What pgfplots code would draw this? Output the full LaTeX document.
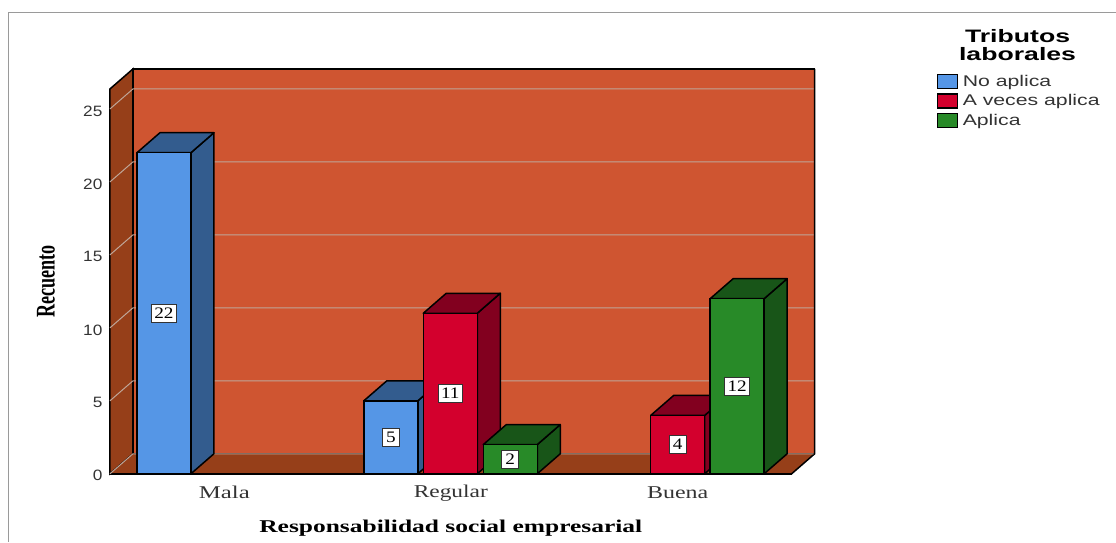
\documentclass[border=0pt]{standalone}
\usepackage{fontspec}
\setmainfont{Liberation Serif}
\newfontfamily\lsans{Liberation Sans}
\usepackage{pgfplots}
\pgfplotsset{compat=1.18}

\definecolor{wall}{HTML}{CF5531}
\definecolor{floorc}{HTML}{963F19}
\definecolor{gridc}{HTML}{BFA698}
\definecolor{framec}{HTML}{9A9A9A}
\definecolor{bluef}{HTML}{5596E6}
\definecolor{blued}{HTML}{335C8E}
\definecolor{redf}{HTML}{D3002D}
\definecolor{redd}{HTML}{82001F}
\definecolor{greenf}{HTML}{288A28}
\definecolor{greend}{HTML}{185518}
\definecolor{inkc}{HTML}{333333}

% One bar with its depth: side face, top face and the front bar itself.
% Arguments: centre x, count, front colour, dark colour.
\newcommand{\depthbar}[4]{%
  \pgfmathsetmacro\xa{#1+27}%
  \pgfmathsetmacro\xb{#1+50}%
  \pgfmathsetmacro\xc{#1-27}%
  \pgfmathsetmacro\xd{#1-4}%
  \pgfmathsetmacro\yb{#2+1.37}%
  \addplot[forget plot,draw=black,line width=1.5pt,fill=#4,line join=round]
    coordinates {(\xa,0) (\xb,1.37) (\xb,\yb) (\xa,#2)} -- cycle;
  \addplot[forget plot,draw=black,line width=1.5pt,fill=#4,line join=round]
    coordinates {(\xc,#2) (\xd,\yb) (\xb,\yb) (\xa,#2)} -- cycle;
  \addplot[forget plot,ybar,bar width=54,bar shift=0pt,draw=black,line width=1.5pt,fill=#3]
    coordinates {(#1,#2)};
}

\begin{document}
\begin{tikzpicture}
\begin{axis}[
  scale only axis,
  width=682pt, height=385pt,
  xmin=110, xmax=792, ymin=0, ymax=26.37,
  clip=false,
  axis lines=left,
  axis line style={draw=black,line width=1.5pt,-},
  xtick={224.5,451,678},
  xticklabels={\scalebox{1.38}[1]{Mala},\scalebox{1.3}[1]{Regular},\scalebox{1.33}[1]{Buena}},
  ytick={0,5,10,15,20,25},
  yticklabels={\scalebox{1.15}[1]{0},\scalebox{1.15}[1]{5},\scalebox{1.15}[1]{10},\scalebox{1.15}[1]{15},\scalebox{1.15}[1]{20},\scalebox{1.15}[1]{25}},
  major tick length=0pt,
  x tick label style={font=\fontsize{18}{18}\selectfont,text=inkc,anchor=center,yshift=-19pt},
  y tick label style={font=\fontsize{15}{15}\selectfont\lsans,text=inkc,anchor=east,xshift=-4pt,yshift=-2pt},
  xlabel={\scalebox{1.415}[1]{Responsabilidad social empresarial}},
  every axis x label/.style={at={(rel axis cs:0.5,-0.1403)},anchor=center,font=\fontsize{18}{18}\selectfont\bfseries,text=black},
  ylabel={\scalebox{0.67}[1]{Recuento}},
  every axis y label/.style={at={(rel axis cs:-0.0938,0.5)},anchor=center,rotate=90,font=\fontsize{27}{27}\selectfont\bfseries,text=black},
  legend style={at={(rel axis cs:1.2126,1.04)},anchor=north west,draw=none,fill=none,
    inner sep=0pt,outer sep=0pt,row sep=4.6pt,
    font=\fontsize{15.5}{15.5}\selectfont\lsans,text=inkc,
    legend cell align=left,
    nodes={inner sep=0pt,outer sep=0pt}},
  legend image code/.code={\draw[#1,draw=black,line width=1.2pt] (0pt,-7pt) rectangle (20pt,7pt);},
]
% Walls and floor of the chart box
\addplot[forget plot,fill=wall,draw=black,line width=1.5pt]
  coordinates {(133,1.37) (133,27.74) (815,27.74) (815,1.37)} -- cycle;
\addplot[forget plot,fill=floorc,draw=black,line width=1.5pt]
  coordinates {(110,0) (110,26.37) (133,27.74) (133,1.37)} -- cycle;
\addplot[forget plot,fill=floorc,draw=none]
  coordinates {(110,0) (792,0) (815,1.37) (133,1.37)} -- cycle;
\addplot[forget plot,draw=black,line width=1.5pt] coordinates {(110,0) (792,0) (815,1.37) (815,27.74)};

% Grid lines running over the left wall and the back wall
\addplot[forget plot,gridc,line width=1pt] coordinates {(110,0) (133,1.37) (814,1.37)};
\addplot[forget plot,gridc,line width=1pt] coordinates {(110,5) (133,6.37) (814,6.37)};
\addplot[forget plot,gridc,line width=1pt] coordinates {(110,10) (133,11.37) (814,11.37)};
\addplot[forget plot,gridc,line width=1pt] coordinates {(110,15) (133,16.37) (814,16.37)};
\addplot[forget plot,gridc,line width=1pt] coordinates {(110,20) (133,21.37) (814,21.37)};
\addplot[forget plot,gridc,line width=1pt] coordinates {(110,25) (133,26.37) (814,26.37)};

% Bars
\depthbar{164}{22}{bluef}{blued}
\depthbar{391}{5}{bluef}{blued}
\depthbar{450.5}{11}{redf}{redd}
\depthbar{510.5}{2}{greenf}{greend}
\depthbar{678}{4}{redf}{redd}
\depthbar{737.5}{12}{greenf}{greend}

% Count labels at the middle of each bar
\addplot[forget plot,only marks,mark size=0pt,point meta=explicit symbolic,
  nodes near coords={\scalebox{1.2}[1]{\pgfplotspointmeta}},
  every node near coord/.append style={anchor=center,fill=white,draw=inkc,line width=1pt,
    font=\fontsize{16}{16}\selectfont,text=black,inner xsep=3pt,inner ysep=0pt,
    minimum height=18pt,minimum width=17pt}]
  table[meta=label] {
  x y label
  164 11 22
  391 2.5 5
  450.5 5.5 11
  510.5 1 2
  678 2 4
  737.5 6 12
};

% Legend
\addlegendimage{fill=bluef}
\addlegendentry{\hspace*{5pt}\scalebox{1.37}[1]{No aplica}}
\addlegendimage{fill=redf}
\addlegendentry{\hspace*{5pt}\scalebox{1.37}[1]{A veces aplica}}
\addlegendimage{fill=greenf}
\addlegendentry{\hspace*{5pt}\scalebox{1.37}[1]{Aplica}}
\node[font=\fontsize{18}{18}\selectfont\lsans\bfseries,text=black,anchor=center] at (axis cs:1018,30.01) {\scalebox{1.48}[1]{Tributos}};
\node[font=\fontsize{18}{18}\selectfont\lsans\bfseries,text=black,anchor=center] at (axis cs:1018,28.75) {\scalebox{1.48}[1]{laborales}};

% Outer frame and the extent of the page
\draw[framec,line width=1pt] (axis cs:9,-4.6575) -- (axis cs:9,31.64) -- (axis cs:1116,31.64);
\path (axis cs:0,-4.6575) rectangle (axis cs:1116,32.466);
\end{axis}
\end{tikzpicture}
\end{document}
